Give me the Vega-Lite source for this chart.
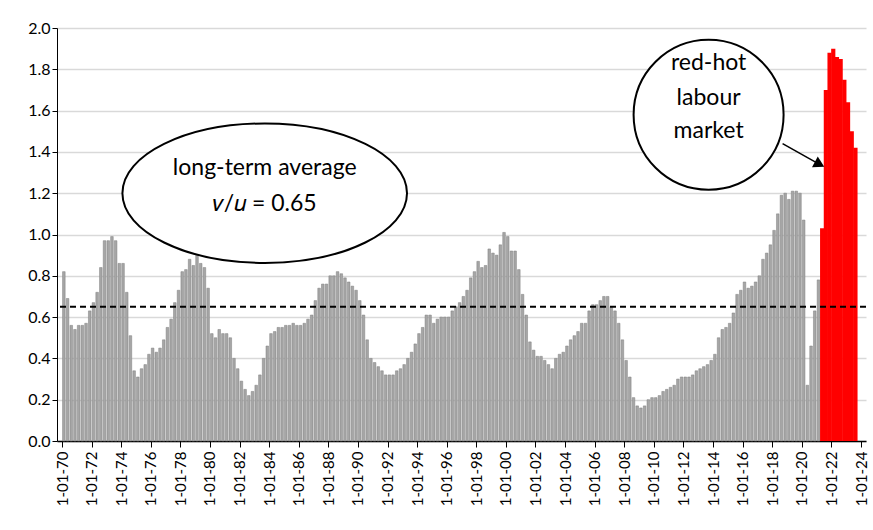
{"$schema":"https://vega.github.io/schema/vega-lite/v6.json","width":809,"height":413,"autosize":"none","padding":{"left":57,"top":28,"right":7,"bottom":89},"config":{"font":"Lato","view":{"stroke":null},"axisX":{"labelOverlap":false,"labelSeparation":0}},
"datasets":{"bars":[
{"t":1970.125,"v":0.82},{"t":1970.375,"v":0.69},{"t":1970.625,"v":0.56},{"t":1970.875,"v":0.54},
{"t":1971.125,"v":0.56},{"t":1971.375,"v":0.56},{"t":1971.625,"v":0.57},{"t":1971.875,"v":0.63},
{"t":1972.125,"v":0.67},{"t":1972.375,"v":0.72},{"t":1972.625,"v":0.84},{"t":1972.875,"v":0.97},
{"t":1973.125,"v":0.97},{"t":1973.375,"v":0.99},{"t":1973.625,"v":0.97},{"t":1973.875,"v":0.86},
{"t":1974.125,"v":0.86},{"t":1974.375,"v":0.72},{"t":1974.625,"v":0.51},{"t":1974.875,"v":0.34},
{"t":1975.125,"v":0.31},{"t":1975.375,"v":0.35},{"t":1975.625,"v":0.37},{"t":1975.875,"v":0.42},
{"t":1976.125,"v":0.45},{"t":1976.375,"v":0.43},{"t":1976.625,"v":0.45},{"t":1976.875,"v":0.49},
{"t":1977.125,"v":0.55},{"t":1977.375,"v":0.59},{"t":1977.625,"v":0.67},{"t":1977.875,"v":0.73},
{"t":1978.125,"v":0.82},{"t":1978.375,"v":0.83},{"t":1978.625,"v":0.88},{"t":1978.875,"v":0.85},
{"t":1979.125,"v":0.90},{"t":1979.375,"v":0.86},{"t":1979.625,"v":0.84},{"t":1979.875,"v":0.74},
{"t":1980.125,"v":0.52},{"t":1980.375,"v":0.50},{"t":1980.625,"v":0.54},{"t":1980.875,"v":0.52},
{"t":1981.125,"v":0.52},{"t":1981.375,"v":0.50},{"t":1981.625,"v":0.40},{"t":1981.875,"v":0.35},
{"t":1982.125,"v":0.29},{"t":1982.375,"v":0.25},{"t":1982.625,"v":0.22},{"t":1982.875,"v":0.24},
{"t":1983.125,"v":0.27},{"t":1983.375,"v":0.32},{"t":1983.625,"v":0.40},{"t":1983.875,"v":0.46},
{"t":1984.125,"v":0.52},{"t":1984.375,"v":0.53},{"t":1984.625,"v":0.55},{"t":1984.875,"v":0.55},
{"t":1985.125,"v":0.56},{"t":1985.375,"v":0.56},{"t":1985.625,"v":0.57},{"t":1985.875,"v":0.56},
{"t":1986.125,"v":0.56},{"t":1986.375,"v":0.57},{"t":1986.625,"v":0.59},{"t":1986.875,"v":0.61},
{"t":1987.125,"v":0.68},{"t":1987.375,"v":0.74},{"t":1987.625,"v":0.76},{"t":1987.875,"v":0.76},
{"t":1988.125,"v":0.80},{"t":1988.375,"v":0.80},{"t":1988.625,"v":0.82},{"t":1988.875,"v":0.81},
{"t":1989.125,"v":0.79},{"t":1989.375,"v":0.77},{"t":1989.625,"v":0.75},{"t":1989.875,"v":0.73},
{"t":1990.125,"v":0.68},{"t":1990.375,"v":0.61},{"t":1990.625,"v":0.49},{"t":1990.875,"v":0.40},
{"t":1991.125,"v":0.38},{"t":1991.375,"v":0.36},{"t":1991.625,"v":0.34},{"t":1991.875,"v":0.32},
{"t":1992.125,"v":0.32},{"t":1992.375,"v":0.32},{"t":1992.625,"v":0.34},{"t":1992.875,"v":0.35},
{"t":1993.125,"v":0.37},{"t":1993.375,"v":0.40},{"t":1993.625,"v":0.43},{"t":1993.875,"v":0.47},
{"t":1994.125,"v":0.52},{"t":1994.375,"v":0.55},{"t":1994.625,"v":0.61},{"t":1994.875,"v":0.61},
{"t":1995.125,"v":0.57},{"t":1995.375,"v":0.59},{"t":1995.625,"v":0.60},{"t":1995.875,"v":0.60},
{"t":1996.125,"v":0.60},{"t":1996.375,"v":0.63},{"t":1996.625,"v":0.65},{"t":1996.875,"v":0.67},
{"t":1997.125,"v":0.70},{"t":1997.375,"v":0.73},{"t":1997.625,"v":0.79},{"t":1997.875,"v":0.82},
{"t":1998.125,"v":0.87},{"t":1998.375,"v":0.84},{"t":1998.625,"v":0.85},{"t":1998.875,"v":0.93},
{"t":1999.125,"v":0.91},{"t":1999.375,"v":0.90},{"t":1999.625,"v":0.95},{"t":1999.875,"v":1.01},
{"t":2000.125,"v":0.99},{"t":2000.375,"v":0.92},{"t":2000.625,"v":0.92},{"t":2000.875,"v":0.83},
{"t":2001.125,"v":0.71},{"t":2001.375,"v":0.61},{"t":2001.625,"v":0.48},{"t":2001.875,"v":0.44},
{"t":2002.125,"v":0.41},{"t":2002.375,"v":0.41},{"t":2002.625,"v":0.39},{"t":2002.875,"v":0.37},
{"t":2003.125,"v":0.35},{"t":2003.375,"v":0.40},{"t":2003.625,"v":0.42},{"t":2003.875,"v":0.43},
{"t":2004.125,"v":0.46},{"t":2004.375,"v":0.49},{"t":2004.625,"v":0.51},{"t":2004.875,"v":0.53},
{"t":2005.125,"v":0.57},{"t":2005.375,"v":0.57},{"t":2005.625,"v":0.63},{"t":2005.875,"v":0.66},
{"t":2006.125,"v":0.66},{"t":2006.375,"v":0.68},{"t":2006.625,"v":0.70},{"t":2006.875,"v":0.70},
{"t":2007.125,"v":0.65},{"t":2007.375,"v":0.63},{"t":2007.625,"v":0.57},{"t":2007.875,"v":0.49},
{"t":2008.125,"v":0.39},{"t":2008.375,"v":0.31},{"t":2008.625,"v":0.21},{"t":2008.875,"v":0.17},
{"t":2009.125,"v":0.16},{"t":2009.375,"v":0.17},{"t":2009.625,"v":0.20},{"t":2009.875,"v":0.21},
{"t":2010.125,"v":0.21},{"t":2010.375,"v":0.22},{"t":2010.625,"v":0.24},{"t":2010.875,"v":0.25},
{"t":2011.125,"v":0.26},{"t":2011.375,"v":0.27},{"t":2011.625,"v":0.30},{"t":2011.875,"v":0.31},
{"t":2012.125,"v":0.31},{"t":2012.375,"v":0.31},{"t":2012.625,"v":0.32},{"t":2012.875,"v":0.34},
{"t":2013.125,"v":0.35},{"t":2013.375,"v":0.36},{"t":2013.625,"v":0.37},{"t":2013.875,"v":0.39},
{"t":2014.125,"v":0.42},{"t":2014.375,"v":0.50},{"t":2014.625,"v":0.54},{"t":2014.875,"v":0.55},
{"t":2015.125,"v":0.57},{"t":2015.375,"v":0.62},{"t":2015.625,"v":0.71},{"t":2015.875,"v":0.73},
{"t":2016.125,"v":0.77},{"t":2016.375,"v":0.74},{"t":2016.625,"v":0.75},{"t":2016.875,"v":0.77},
{"t":2017.125,"v":0.80},{"t":2017.375,"v":0.88},{"t":2017.625,"v":0.91},{"t":2017.875,"v":0.95},
{"t":2018.125,"v":1.02},{"t":2018.375,"v":1.10},{"t":2018.625,"v":1.19},{"t":2018.875,"v":1.20},
{"t":2019.125,"v":1.17},{"t":2019.375,"v":1.21},{"t":2019.625,"v":1.21},{"t":2019.875,"v":1.20},
{"t":2020.125,"v":1.07},{"t":2020.375,"v":0.27},{"t":2020.625,"v":0.46},{"t":2020.875,"v":0.63},
{"t":2021.125,"v":0.78}],
"red":[{"t":2021.375,"v":1.03},{"t":2021.625,"v":1.70},{"t":2021.875,"v":1.88},
{"t":2022.125,"v":1.90},{"t":2022.375,"v":1.86},{"t":2022.625,"v":1.85},{"t":2022.875,"v":1.75},
{"t":2023.125,"v":1.64},{"t":2023.375,"v":1.50},{"t":2023.625,"v":1.42}]},
"layer":[
{"data":{"name":"bars"},"mark":{"type":"bar","width":2.6,"fill":"#a6a6a6","stroke":"#7f7f7f","strokeWidth":0.5},
"encoding":{"x":{"field":"t","type":"quantitative","scale":{"domain":[1970,2024],"nice":false,"zero":false},
"axis":{"values":[1970,1972,1974,1976,1978,1980,1982,1984,1986,1988,1990,1992,1994,1996,1998,2000,2002,2004,2006,2008,2010,2012,2014,2016,2018,2020,2022,2024],"tickCount":40,"labelOverlap":false,"labelSeparation":0,"labelExpr":"'1-01-' + slice(format(datum.value,'d'),2)","labelAngle":-90,"labelAlign":"right","labelBaseline":"middle","labelFontSize":15,"labelColor":"#000","title":null,"grid":false,"domainColor":"#000","domainWidth":1.5,"tickColor":"#000","tickSize":6,"labelPadding":4}},
"y":{"field":"v","type":"quantitative","scale":{"domain":[0,2]},"axis":{"values":[0,0.2,0.4,0.6,0.8,1.0,1.2,1.4,1.6,1.8,2.0],"format":".1f","labelFontSize":16,"labelColor":"#000","title":null,"gridColor":"#d9d9d9","gridWidth":1.5,"domainColor":"#000","tickColor":"#000","tickSize":5}}}},
{"data":{"name":"red"},"mark":{"type":"bar","width":4.2,"fill":"#ff0000"},
"encoding":{"x":{"field":"t","type":"quantitative"},"y":{"field":"v","type":"quantitative"}}},
{"data":{"values":[{"v":0.65}]},"mark":{"type":"rule","strokeDash":[6,4],"strokeWidth":2,"color":"#000"},"encoding":{"y":{"field":"v","type":"quantitative"}}},
{"data":{"values":[{"t":1983.7,"v":1.2}]},"mark":{"type":"point","shape":"M -1 0 A 1 0.49 0 1 1 1 0 A 1 0.49 0 1 1 -1 0 Z","size":81000,"filled":true,"fill":"#fff","stroke":"#000","strokeWidth":2,"opacity":1},
"encoding":{"x":{"field":"t","type":"quantitative"},"y":{"field":"v","type":"quantitative"}}},
{"data":{"values":[{"t":2013.7,"v":1.58}]},"mark":{"type":"point","shape":"circle","size":22500,"filled":true,"fill":"#fff","stroke":"#000","strokeWidth":2,"opacity":1},
"encoding":{"x":{"field":"t","type":"quantitative"},"y":{"field":"v","type":"quantitative"}}},
{"data":{"values":[{"t":2018.7,"v":1.44,"t2":2021.2,"v2":1.34}]},"mark":{"type":"rule","strokeWidth":1.5,"color":"#000"},
"encoding":{"x":{"field":"t","type":"quantitative"},"y":{"field":"v","type":"quantitative"},"x2":{"field":"t2"},"y2":{"field":"v2"}}},
{"data":{"values":[{"t":2021.2,"v":1.34}]},"mark":{"type":"point","shape":"triangle-right","angle":28,"size":150,"filled":true,"color":"#000","opacity":1},
"encoding":{"x":{"field":"t","type":"quantitative"},"y":{"field":"v","type":"quantitative"}}},
{"data":{"values":[{"t":1983.7,"v":1.32,"txt":"long-term average"},{"t":1983.7,"v":1.15,"txt":"𝑣/𝑢 = 0.65"},{"t":2013.7,"v":1.83,"txt":"red-hot"},{"t":2013.7,"v":1.66,"txt":"labour"},{"t":2013.7,"v":1.5,"txt":"market"}]},
"mark":{"type":"text","fontSize":23,"color":"#000","align":"center","baseline":"middle"},
"encoding":{"x":{"field":"t","type":"quantitative"},"y":{"field":"v","type":"quantitative"},"text":{"field":"txt"}}}
]}
